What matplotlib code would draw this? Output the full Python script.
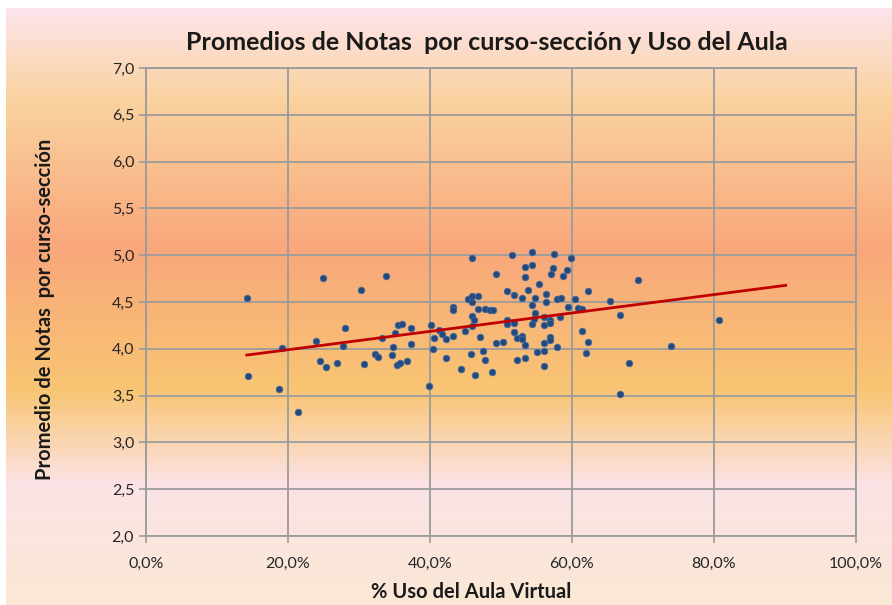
import matplotlib
matplotlib.use("Agg")
import matplotlib.pyplot as plt
import matplotlib.ticker as ticker
from matplotlib.colors import LinearSegmentedColormap
import numpy as np

# % uso del aula virtual (x) y promedio de notas (y)
uso_pct = [14.2, 14.4, 18.7, 21.4, 19.2, 24.9, 23.9, 24.5, 25.3, 26.9,
           28.0, 27.8, 30.3, 30.7, 33.8, 32.3, 32.7, 33.3, 34.6, 34.8,
           35.0, 35.5, 36.0, 37.3, 37.3, 35.3, 35.8, 36.8, 39.8, 40.1,
           40.6, 40.4, 41.2, 41.7, 42.2, 42.3, 43.2, 43.3, 43.3, 44.3,
           44.9, 45.3, 45.9, 45.9, 46.8, 45.9, 45.9, 46.2, 45.9, 47.0,
           46.8, 47.8, 48.5, 48.9, 45.8, 46.4, 47.4, 47.8, 48.7, 49.3,
           49.3, 50.3, 50.9, 50.9, 50.9, 51.5, 51.9, 51.9, 51.9, 52.3,
           52.3, 52.9, 52.9, 53.0, 53.4, 53.4, 53.8, 53.4, 53.4, 54.4,
           54.4, 54.4, 54.8, 54.8, 54.4, 54.6, 55.4, 55.1, 56.0, 56.0,
           56.0, 56.0, 56.3, 56.3, 56.1, 56.9, 56.9, 56.9, 56.9, 57.1,
           57.3, 57.5, 57.9, 57.9, 58.5, 58.3, 58.7, 59.3, 59.4, 59.9,
           60.4, 60.8, 61.4, 61.4, 62.3, 62.3, 62.0, 65.4, 66.8, 66.8,
           68.0, 69.3, 74.0, 80.7]
notas = [4.54, 3.71, 3.57, 3.32, 4.01, 4.76, 4.08, 3.87, 3.81, 3.85,
         4.22, 4.03, 4.63, 3.84, 4.78, 3.94, 3.91, 4.12, 3.93, 4.02,
         4.17, 4.25, 4.26, 4.22, 4.05, 3.83, 3.85, 3.87, 3.60, 4.25,
         4.12, 4.00, 4.20, 4.16, 4.10, 3.90, 4.14, 4.45, 4.41, 3.78,
         4.19, 4.53, 4.56, 4.50, 4.56, 4.97, 4.35, 4.31, 4.24, 4.13,
         4.42, 4.43, 4.41, 4.41, 3.94, 3.72, 3.98, 3.88, 3.75, 4.80,
         4.06, 4.07, 4.62, 4.31, 4.26, 5.00, 4.57, 4.28, 4.18, 4.12,
         3.88, 4.54, 4.14, 4.11, 4.87, 4.77, 4.63, 4.04, 3.90, 5.03,
         4.90, 4.47, 4.54, 4.38, 4.26, 4.32, 4.69, 3.97, 4.25, 4.06,
         3.98, 3.82, 4.59, 4.50, 4.34, 4.31, 4.28, 4.13, 4.09, 4.80,
         4.86, 5.01, 4.53, 4.02, 4.54, 4.34, 4.78, 4.84, 4.45, 4.97,
         4.53, 4.44, 4.43, 4.19, 4.62, 4.07, 3.96, 4.51, 4.36, 3.52,
         3.85, 4.74, 4.03, 4.31]

x = np.array(uso_pct) / 100
y = np.array(notas)

fig = plt.figure(figsize=(8.92, 6.05), dpi=100)
fig.patch.set_facecolor("white")

# fondo degradado (como el relleno del area del grafico en Excel)
stops = [(0.0, "#fde4ec"), (0.15, "#fad3a0"), (0.40, "#f9a77b"),
         (0.64, "#f8c573"), (0.80, "#fce3e6"), (1.0, "#fae8d4")]
cmap = LinearSegmentedColormap.from_list("atardecer", stops)
bg = fig.add_axes([6 / 892, 0, 1 - 6 / 892, 1 - 8 / 605], zorder=-10)
bg.imshow(np.linspace(0, 1, 256).reshape(-1, 1), cmap=cmap, aspect="auto",
          extent=[0, 1, 0, 1])
bg.set_axis_off()

ax = fig.add_axes([146 / 892, 1 - 536 / 605, 710 / 892, 468 / 605])
ax.set_facecolor("none")

ax.scatter(x, y, s=22, color="#24497a", edgecolors="#3d6aa3",
           linewidths=0.6, zorder=3)

# linea de tendencia lineal (pronostico hacia adelante)
m, b = np.polyfit(x, y, 1)
xt = np.array([x.min(), x.max() + 0.094])
ax.plot(xt, m * xt + b, color="#c00000", lw=2, zorder=4)

ax.set_xlim(0, 1)
ax.set_ylim(2, 7)
ax.set_xticks(np.arange(0, 1.01, 0.2))
ax.set_yticks(np.arange(2, 7.01, 0.5))
ax.xaxis.set_major_formatter(ticker.FuncFormatter(
    lambda v, p: f"{v * 100:.1f}%".replace(".", ",")))
ax.yaxis.set_major_formatter(ticker.FuncFormatter(
    lambda v, p: f"{v:.1f}".replace(".", ",")))

ax.grid(True, color="#9b9b9b", lw=1.3, zorder=1)
ax.set_axisbelow(True)
for s in ax.spines.values():
    s.set_color("#9b9b9b")
    s.set_linewidth(1.3)
ax.tick_params(colors="#9b9b9b", labelcolor="#262626", length=5, width=1.2,
               labelsize=11.5)
ax.tick_params(axis="x", pad=10)
for lab in ax.get_xticklabels() + ax.get_yticklabels():
    lab.set_family("Lato")

fig.text(0.546, 1 - 42 / 605, "Promedios de Notas  por curso-sección y Uso del Aula",
         ha="center", va="center", fontsize=18, fontweight="bold",
         family="Lato", color="#1a1a1a")
fig.text(45 / 892, 1 - 309 / 605, "Promedio de Notas  por curso-sección",
         ha="center", va="center", rotation=90, fontsize=14.5,
         fontweight="bold", family="Lato", color="#1a1a1a")
fig.text(471 / 892, 1 - 592 / 605, "% Uso del Aula Virtual",
         ha="center", va="center", fontsize=14.5, fontweight="bold",
         family="Lato", color="#1a1a1a")

fig.savefig("out.png", dpi=100)
